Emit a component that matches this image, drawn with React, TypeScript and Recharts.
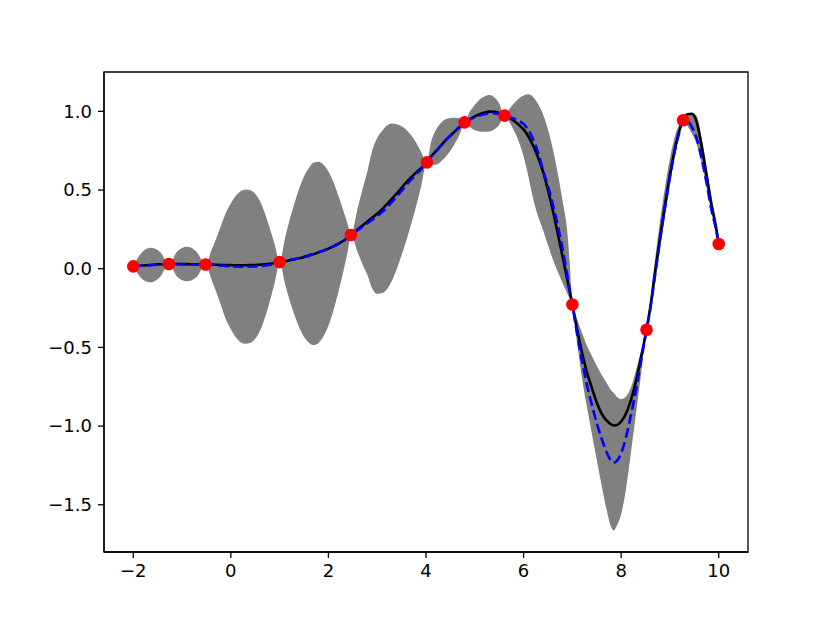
import React from 'react';
import { ComposedChart, Area, Line, Scatter, XAxis, YAxis, ReferenceArea } from 'recharts';

// sample grid (observation points included so the band pinches there)
const xs = [
  -2, -1.85, -1.65, -1.45, -1.27, -1.1, -0.9, -0.7, -0.52,
  -0.4, -0.3, -0.2, -0.1, 0, 0.1, 0.2, 0.3, 0.4, 0.5, 0.6, 0.7, 0.8, 0.9, 1.0,
  1.1, 1.2, 1.3, 1.4, 1.5, 1.6, 1.7, 1.8, 1.9, 2.0, 2.1, 2.2, 2.3, 2.4, 2.46,
  2.6, 2.7, 2.8, 2.9, 3.0, 3.1, 3.2, 3.3, 3.4, 3.5, 3.6, 3.7, 3.8, 3.9, 4.02,
  4.1, 4.2, 4.3, 4.4, 4.5, 4.6, 4.7, 4.79, 4.9, 5.0, 5.1, 5.2, 5.3, 5.4, 5.5, 5.61,
  5.7, 5.8, 5.9, 6.0, 6.1, 6.2, 6.3, 6.4, 6.5, 6.6, 6.7, 6.8, 6.9, 6.95, 7.0,
  7.05, 7.1, 7.2, 7.3, 7.4, 7.5, 7.6, 7.7, 7.8, 7.85, 7.9, 8.0, 8.1, 8.2, 8.3, 8.4, 8.52,
  8.6, 8.7, 8.8, 8.9, 9.0, 9.1, 9.2, 9.27, 9.35, 9.45, 9.55, 9.65, 9.75, 9.85, 9.93, 10.0,
];

// true function (black)
const truthY = [
  0.015, 0.019, 0.024, 0.028, 0.03, 0.03, 0.029, 0.028, 0.027,
  0.026, 0.025, 0.024, 0.023, 0.023, 0.022, 0.022, 0.022, 0.023, 0.024, 0.026, 0.028, 0.031, 0.036, 0.042,
  0.047, 0.053, 0.059, 0.066, 0.074, 0.083, 0.093, 0.104, 0.115, 0.128, 0.142, 0.158, 0.176, 0.199, 0.214,
  0.25, 0.275, 0.3, 0.325, 0.35, 0.378, 0.41, 0.444, 0.478, 0.514, 0.55, 0.582, 0.612, 0.64, 0.676,
  0.712, 0.745, 0.78, 0.815, 0.846, 0.875, 0.903, 0.93, 0.95, 0.968, 0.982, 0.992, 0.998, 0.997, 0.99, 0.973,
  0.96, 0.94, 0.915, 0.885, 0.84, 0.78, 0.705, 0.615, 0.5, 0.37, 0.225, 0.075, -0.075, -0.15, -0.227,
  -0.31, -0.39, -0.535, -0.66, -0.757, -0.85, -0.92, -0.963, -0.99, -0.996, -0.995, -0.971, -0.92, -0.835, -0.72, -0.575, -0.388,
  -0.24, -0.01, 0.205, 0.405, 0.595, 0.758, 0.884, 0.943, 0.98, 0.985, 0.93, 0.78, 0.595, 0.41, 0.29, 0.157,
];

// predicted mean (blue dashed)
const meanY = [
  0.015, 0.019, 0.023, 0.027, 0.03, 0.029, 0.028, 0.027, 0.027,
  0.025, 0.022, 0.02, 0.017, 0.015, 0.014, 0.013, 0.013, 0.014, 0.015, 0.017, 0.02, 0.025, 0.032, 0.042,
  0.048, 0.055, 0.061, 0.068, 0.076, 0.085, 0.095, 0.105, 0.116, 0.128, 0.142, 0.157, 0.175, 0.198, 0.214,
  0.245, 0.267, 0.29, 0.312, 0.335, 0.36, 0.39, 0.423, 0.458, 0.495, 0.532, 0.567, 0.6, 0.632, 0.676,
  0.71, 0.745, 0.78, 0.815, 0.845, 0.875, 0.905, 0.93, 0.948, 0.962, 0.974, 0.982, 0.987, 0.988, 0.983, 0.973,
  0.965, 0.955, 0.94, 0.92, 0.88, 0.82, 0.735, 0.625, 0.525, 0.41, 0.275, 0.125, -0.05, -0.14, -0.227,
  -0.325, -0.42, -0.59, -0.74, -0.865, -0.98, -1.08, -1.165, -1.222, -1.231, -1.225, -1.172, -1.07, -0.93, -0.78, -0.6, -0.388,
  -0.25, -0.03, 0.19, 0.395, 0.585, 0.75, 0.875, 0.943, 0.94, 0.9, 0.825, 0.7, 0.545, 0.375, 0.27, 0.157,
];

// confidence band, lower edge
const bandLo = [
  0.015, -0.056, -0.087, -0.053, 0.03, -0.051, -0.08, -0.053, 0.027,
  -0.065, -0.148, -0.235, -0.323, -0.385, -0.436, -0.467, -0.477, -0.471, -0.445, -0.393, -0.31, -0.205, -0.088, 0.042,
  -0.082, -0.195, -0.289, -0.372, -0.434, -0.47, -0.485, -0.47, -0.429, -0.362, -0.268, -0.153, -0.025, 0.118, 0.214,
  0.105, 0.027, -0.04, -0.128, -0.16, -0.155, -0.13, -0.077, -0.002, 0.085, 0.182, 0.287, 0.4, 0.522, 0.676,
  0.66, 0.66, 0.68, 0.71, 0.75, 0.8, 0.86, 0.93, 0.9, 0.88, 0.872, 0.87, 0.872, 0.885, 0.913, 0.973,
  0.935, 0.88, 0.81, 0.715, 0.585, 0.44, 0.33, 0.245, 0.15, 0.06, -0.02, -0.09, -0.16, -0.195, -0.227,
  -0.36, -0.48, -0.7, -0.88, -1.05, -1.215, -1.378, -1.53, -1.645, -1.664, -1.64, -1.56, -1.4, -1.17, -0.93, -0.69, -0.388,
  -0.28, -0.08, 0.13, 0.33, 0.53, 0.71, 0.855, 0.943, 0.91, 0.86, 0.79, 0.67, 0.52, 0.36, 0.245, 0.157,
];

// confidence band, upper edge
const bandHi = [
  0.015, 0.094, 0.133, 0.107, 0.03, 0.109, 0.14, 0.107, 0.027,
  0.115, 0.192, 0.275, 0.357, 0.415, 0.464, 0.493, 0.503, 0.499, 0.475, 0.427, 0.35, 0.255, 0.152, 0.042,
  0.178, 0.305, 0.411, 0.508, 0.586, 0.64, 0.675, 0.68, 0.661, 0.618, 0.552, 0.467, 0.375, 0.278, 0.214,
  0.385, 0.507, 0.62, 0.752, 0.83, 0.875, 0.91, 0.923, 0.918, 0.905, 0.882, 0.847, 0.8, 0.742, 0.676,
  0.8, 0.88, 0.925, 0.95, 0.958, 0.96, 0.955, 0.93, 1.0, 1.04, 1.075, 1.095, 1.104, 1.09, 1.05, 0.973,
  1.01, 1.05, 1.08, 1.1, 1.108, 1.09, 1.045, 0.98, 0.885, 0.76, 0.605, 0.43, 0.22, 0.02, -0.227,
  -0.275, -0.322, -0.41, -0.49, -0.554, -0.618, -0.674, -0.725, -0.776, -0.79, -0.81, -0.828, -0.812, -0.755, -0.65, -0.53, -0.388,
  -0.19, 0.07, 0.31, 0.52, 0.7, 0.84, 0.92, 0.943, 0.985, 0.99, 0.97, 0.83, 0.65, 0.46, 0.31, 0.157,
];

// observations (red dots)
const obsX = [-2, -1.27, -0.52, 1.0, 2.46, 4.02, 4.79, 5.61, 7.0, 8.52, 9.27, 10.0];
const obsY = [0.015, 0.03, 0.027, 0.042, 0.214, 0.676, 0.93, 0.973, -0.227, -0.388, 0.943, 0.157];

const xTicks = [-2, 0, 2, 4, 6, 8, 10];
const yTicks = [-1.5, -1.0, -0.5, 0.0, 0.5, 1.0];

const rows = xs.map((x, i) => ({
  x,
  truth: truthY[i],
  mean: meanY[i],
  band: [bandLo[i], bandHi[i]],
}));
const obs = obsX.map((x, i) => ({ x, y: obsY[i] }));

const xDomain = [-2.6, 10.6];
const yDomain = [-1.8, 1.25];

const fmt = (v: number, digits: number) => (v < 0 ? '\u2212' : '') + Math.abs(v).toFixed(digits);
const tickStyle = { fill: '#000', fontSize: 18, fontFamily: 'DejaVu Sans' };

const Dot = (props: any) => <circle cx={props.cx} cy={props.cy} r={6.3} fill="#ff0000" />;

export default function App() {
  return (
    <ComposedChart width={814} height={606} data={rows} margin={{ top: 64, right: 74, bottom: 0, left: 0 }}>
      <XAxis
        dataKey="x"
        type="number"
        domain={xDomain}
        allowDataOverflow
        ticks={xTicks}
        tickFormatter={(v) => fmt(v, 0)}
        height={62}
        tickSize={6}
        tickMargin={6}
        tick={tickStyle}
        axisLine={{ stroke: '#000', strokeWidth: 1.3 }}
        tickLine={{ stroke: '#000', strokeWidth: 1.3 }}
      />
      <YAxis
        type="number"
        domain={yDomain}
        allowDataOverflow
        ticks={yTicks}
        tickFormatter={(v) => fmt(v, 1)}
        width={96}
        tickSize={6}
        tickMargin={6}
        tick={tickStyle}
        axisLine={{ stroke: '#000', strokeWidth: 1.3 }}
        tickLine={{ stroke: '#000', strokeWidth: 1.3 }}
      />
      <Area
        dataKey="band"
        type="monotone"
        fill="#808080"
        fillOpacity={1}
        stroke="none"
        isAnimationActive={false}
      />
      <Line dataKey="truth" type="monotone" stroke="#000" strokeWidth={2.6} dot={false} isAnimationActive={false} />
      <Line
        dataKey="mean"
        type="monotone"
        stroke="#0000ff"
        strokeWidth={2.6}
        strokeDasharray="10 4.3"
        dot={false}
        isAnimationActive={false}
      />
      <Scatter data={obs} dataKey="y" shape={<Dot />} isAnimationActive={false} />
      {/* frame around the plot area */}
      <ReferenceArea
        x1={xDomain[0]}
        x2={xDomain[1]}
        y1={yDomain[0]}
        y2={yDomain[1]}
        fill="none"
        stroke="#000"
        strokeWidth={1.3}
        ifOverflow="visible"
      />
    </ComposedChart>
  );
}
